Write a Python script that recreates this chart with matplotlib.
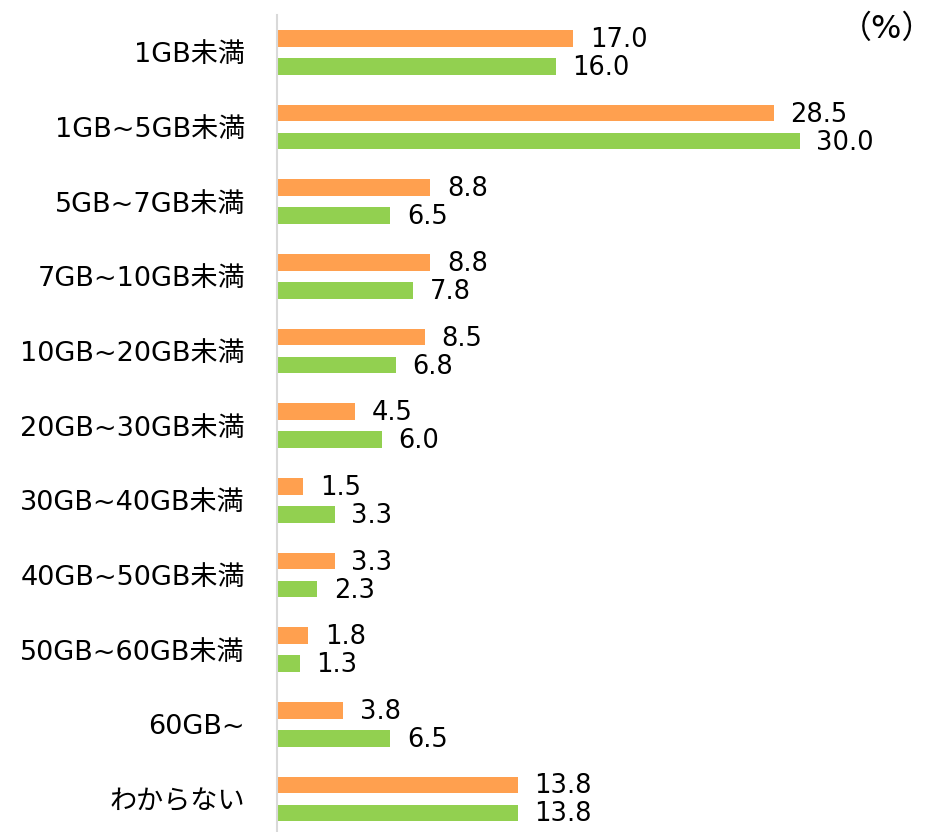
import numpy as np
import matplotlib.pyplot as plt

plt.rcParams['font.family'] = ['DejaVu Sans', 'Noto Sans CJK JP']

categories = ["1GB未満", "1GB~5GB未満", "5GB~7GB未満", "7GB~10GB未満", "10GB~20GB未満",
              "20GB~30GB未満", "30GB~40GB未満", "40GB~50GB未満", "50GB~60GB未満",
              "60GB~", "わからない"]
orange_vals = [17.0, 28.5, 8.8, 8.8, 8.5, 4.5, 1.5, 3.3, 1.8, 3.8, 13.8]
green_vals = [16.0, 30.0, 6.5, 7.8, 6.8, 6.0, 3.3, 2.3, 1.3, 6.5, 13.8]

orange = '#FFA04F'
green = '#92D050'

fig = plt.figure(figsize=(9.49, 8.32), dpi=100)
ax = fig.add_axes([277/949, 0, 610/949, 1 - 15/832])

y = np.arange(len(categories))
h = 0.222
off = 0.1875
ax.barh(y - off, orange_vals, height=h, color=orange)
ax.barh(y + off, green_vals, height=h, color=green)

for yi, v in zip(y, orange_vals):
    ax.text(v + 0.95, yi - off + 0.02, f"{v:.1f}", va='center', ha='left', fontsize=18.5)
for yi, v in zip(y, green_vals):
    ax.text(v + 0.95, yi + off + 0.02, f"{v:.1f}", va='center', ha='left', fontsize=18.5)

ax.set_xlim(0, 35)
ax.set_ylim(10.442, -0.502)
ax.set_yticks(y)
ax.set_yticklabels(categories, fontsize=19.5)
ax.tick_params(axis='y', length=0, pad=23)
ax.set_xticks([])
for s in ['top', 'right', 'bottom']:
    ax.spines[s].set_visible(False)
ax.spines['left'].set_color('#D9D9D9')
ax.spines['left'].set_linewidth(1.5)

fig.text(887/949, 1 - 29/832, "（%）", ha='center', va='center', fontsize=23)

plt.savefig("out.png", dpi=100)
